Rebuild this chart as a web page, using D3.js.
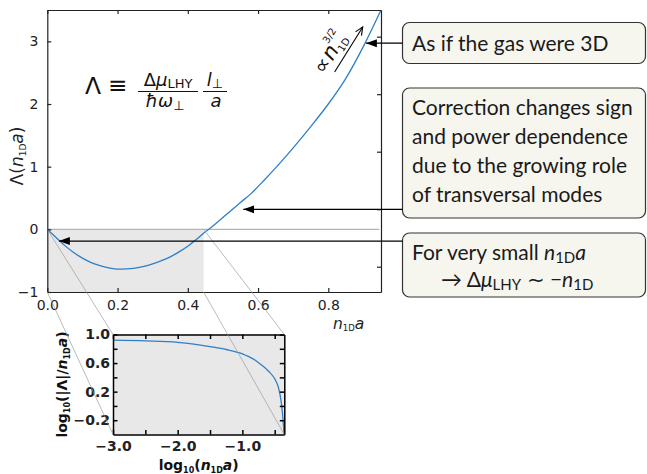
<!DOCTYPE html>
<html>
<head>
<meta charset="utf-8">
<script src="https://cdn.jsdelivr.net/npm/d3@7"></script>
<style>
  body { margin: 0; background: #fff; }
  svg { display: block; font-family: "DejaVu Sans", sans-serif; }
  .axis text { font-family: "DejaVu Sans", sans-serif; fill: #222; }
  .box text { font-family: Lato, sans-serif; font-size: 21px; fill: #1a1a1a; }
</style>
</head>
<body>
<svg id="chart" width="647" height="474"></svg>
<script>
// Lambda(n1D a)
const densities = [0, 0.025, 0.05, 0.075, 0.1, 0.125, 0.15, 0.175, 0.2, 0.225, 0.25, 0.275,
  0.3, 0.325, 0.35, 0.375, 0.4, 0.425, 0.45, 0.475, 0.5, 0.525, 0.55, 0.58, 0.62, 0.65,
  0.7, 0.75, 0.8, 0.85, 0.9, 0.95];
const lambdaValues = [0, -0.13, -0.26, -0.37, -0.46, -0.53, -0.58, -0.615, -0.635, -0.632, -0.618, -0.59,
  -0.55, -0.50, -0.44, -0.36, -0.27, -0.16, -0.04, 0.07, 0.19, 0.31, 0.43, 0.57, 0.80, 0.98,
  1.30, 1.64, 2.00, 2.41, 2.92, 3.50];

// inset: log10(|Lambda| / n1D a) against log10(n1D a)
const logDensities = [-3.0, -2.5, -2.0, -1.75, -1.5, -1.25, -1.0, -0.9, -0.8, -0.7, -0.6, -0.5,
  -0.45, -0.42, -0.40, -0.38, -0.365, -0.355];
const logRatios = [0.92, 0.91, 0.89, 0.865, 0.83, 0.79, 0.73, 0.69, 0.64, 0.57, 0.49, 0.38,
  0.28, 0.17, 0.06, -0.10, -0.27, -0.42];

const xTicks = [0, 0.2, 0.4, 0.6, 0.8];
const yTicks = [-1, 0, 1, 2, 3];
const rightTicks = [0, 1, 2, 3, 4];
const insetXTicks = [-3, -2.5, -2, -1.5, -1, -0.5];
const insetXLabels = [-3, -2, -1];
const insetYTicks = [-0.2, 0, 0.2, 0.4, 0.6, 0.8, 1.0];
const insetYLabels = [-0.2, 0.2, 0.6, 1.0];

// zoomed window [n1D a range, Lambda range]
const zoomX = [0, 0.445];
const zoomY = [-1, 0];

// arrow tips (data coords of main panel)
const arrowTips = [[0.907, 2.97], [0.558, 0.32], [0.033, -0.187]];

const boxTexts = [
  ["As if the gas were 3D"],
  ["Correction changes sign", "and power dependence", "due to the growing role", "of transversal modes"]
];

const svg = d3.select("#chart");

const x = d3.scaleLinear().domain([0, 0.95]).range([47.3, 381]);
const y = d3.scaleLinear().domain([-1, 3.5]).range([292, 10]);
const yRight = d3.scaleLinear().domain([-0.44, 4.464]).range([292, 10]);

const ix = d3.scaleLinear().domain([-3, Math.log10(zoomX[1])]).range([113, 284.3]);
const iy = d3.scaleLinear().domain([-0.4, 1.0]).range([434.5, 334.5]);

const blue = "#2f7fc6";

// defs: arrow heads, clip for inset
const defs = svg.append("defs");
defs.append("marker")
  .attr("id", "head")
  .attr("markerUnits", "userSpaceOnUse")
  .attr("markerWidth", 12).attr("markerHeight", 10)
  .attr("refX", 11).attr("refY", 4.5)
  .attr("orient", "auto")
  .append("path")
  .attr("d", "M0,0.5 L11,4.5 L0,8.5 Z")
  .attr("fill", "#000");
defs.append("marker")
  .attr("id", "openhead")
  .attr("markerUnits", "userSpaceOnUse")
  .attr("markerWidth", 12).attr("markerHeight", 10)
  .attr("refX", 8).attr("refY", 4)
  .attr("orient", "auto")
  .append("path")
  .attr("d", "M0,0.5 L8,4 L0,7.5")
  .attr("fill", "none").attr("stroke", "#000").attr("stroke-width", 1.1);
defs.append("clipPath").attr("id", "insetClip")
  .append("rect")
  .attr("x", ix.range()[0]).attr("y", iy.range()[1])
  .attr("width", ix.range()[1] - ix.range()[0])
  .attr("height", iy.range()[0] - iy.range()[1]);

// ---- main panel ----
svg.append("rect")
  .attr("x", x(zoomX[0])).attr("y", y(zoomY[1]))
  .attr("width", x(zoomX[1]) - x(zoomX[0]))
  .attr("height", y(zoomY[0]) - y(zoomY[1]))
  .attr("fill", "#e8e8e8");

svg.append("line")
  .attr("x1", x(0)).attr("x2", x(0.945))
  .attr("y1", y(0)).attr("y2", y(0))
  .attr("stroke", "#b4b4b4").attr("stroke-width", 1.3);

const mainLine = d3.line()
  .x((d, i) => x(densities[i]))
  .y(d => y(d))
  .curve(d3.curveMonotoneX);

svg.append("path")
  .datum(lambdaValues)
  .attr("d", mainLine)
  .attr("fill", "none")
  .attr("stroke", blue)
  .attr("stroke-width", 1.3);

function styleAxis(g, color, width) {
  g.selectAll(".domain").attr("stroke", color).attr("stroke-width", width);
  g.selectAll(".tick line").attr("stroke", color).attr("stroke-width", width);
}

const gx = svg.append("g").attr("class", "axis")
  .attr("transform", `translate(0,${y.range()[0]})`)
  .call(d3.axisBottom(x).tickValues(xTicks).tickFormat(d3.format(".1f"))
    .tickSizeInner(-4).tickSizeOuter(0).tickPadding(8));
gx.selectAll("text").attr("font-size", 14);
styleAxis(gx, "#222", 1.2);

const gxt = svg.append("g").attr("class", "axis")
  .attr("transform", `translate(0,${y.range()[1]})`)
  .call(d3.axisTop(x).tickValues(xTicks).tickFormat("")
    .tickSizeInner(-4).tickSizeOuter(0));
styleAxis(gxt, "#222", 1.2);

const gy = svg.append("g").attr("class", "axis")
  .attr("transform", `translate(${x.range()[0]},0)`)
  .call(d3.axisLeft(y).tickValues(yTicks).tickFormat(d3.format("d"))
    .tickSizeInner(-4).tickSizeOuter(0).tickPadding(9));
gy.selectAll("text").attr("font-size", 14);
styleAxis(gy, "#222", 1.2);

const gyr = svg.append("g").attr("class", "axis")
  .attr("transform", `translate(${x.range()[1]},0)`)
  .call(d3.axisRight(yRight).tickValues(rightTicks).tickFormat("")
    .tickSizeInner(-4).tickSizeOuter(0));
styleAxis(gyr, "#222", 1.2);

// axis titles
const yTitle = svg.append("text")
  .attr("transform", `translate(23,${(y.range()[0] + y.range()[1]) / 2 + 5}) rotate(-90)`)
  .attr("text-anchor", "middle")
  .attr("font-size", 17)
  .attr("fill", "#222");
yTitle.append("tspan").text("Λ(");
yTitle.append("tspan").attr("font-style", "italic").text("n");
yTitle.append("tspan").attr("font-size", 9).attr("dy", 3).text("1D");
yTitle.append("tspan").attr("font-style", "italic").attr("dy", -3).text("a");
yTitle.append("tspan").text(")");

const xTitle = svg.append("text")
  .attr("x", 333).attr("y", 329)
  .attr("font-size", 15.5)
  .attr("fill", "#222");
xTitle.append("tspan").attr("font-style", "italic").text("n");
xTitle.append("tspan").attr("font-size", 8.5).attr("dy", 2).text("1D");
xTitle.append("tspan").attr("font-style", "italic").attr("dy", -2).text("a");

// definition of Lambda
const fm = svg.append("g").attr("fill", "#111");
fm.append("text").attr("x", 85).attr("y", 94).attr("font-size", 23.5).text("Λ");
fm.append("text").attr("x", 108).attr("y", 93).attr("font-size", 23).text("≡");
const num = fm.append("text").attr("x", 168).attr("y", 86).attr("font-size", 18)
  .attr("text-anchor", "middle");
num.append("tspan").text("Δ");
num.append("tspan").attr("font-style", "italic").text("μ");
num.append("tspan").attr("font-size", 13).attr("dy", 2).text("LHY");
fm.append("line").attr("x1", 138).attr("x2", 198).attr("y1", 91.5).attr("y2", 91.5)
  .attr("stroke", "#111").attr("stroke-width", 1);
const den = fm.append("text").attr("x", 165).attr("y", 107).attr("font-size", 18)
  .attr("text-anchor", "middle");
den.append("tspan").attr("font-style", "italic").text("ħω");
den.append("tspan").attr("font-size", 13).attr("dy", 3).text("⊥");
const num2 = fm.append("text").attr("x", 215).attr("y", 86).attr("font-size", 18)
  .attr("text-anchor", "middle");
num2.append("tspan").attr("font-style", "italic").text("l");
num2.append("tspan").attr("font-size", 13).attr("dy", 2).text("⊥");
fm.append("line").attr("x1", 203).attr("x2", 227).attr("y1", 91.5).attr("y2", 91.5)
  .attr("stroke", "#111").attr("stroke-width", 1);
fm.append("text").attr("x", 216).attr("y", 107).attr("font-size", 18)
  .attr("text-anchor", "middle").attr("font-style", "italic").text("a");

// proportional-to annotation with open arrow
svg.append("line")
  .attr("x1", x(0.818)).attr("y1", y(2.51))
  .attr("x2", x(0.898)).attr("y2", y(3.23))
  .attr("stroke", "#000").attr("stroke-width", 1.1)
  .attr("marker-end", "url(#openhead)");
const prop = svg.append("text")
  .attr("transform", `translate(${x(0.788)},${y(2.46)}) rotate(-58)`)
  .attr("font-size", 21).attr("fill", "#111");
prop.append("tspan").text("∝");
prop.append("tspan").attr("font-style", "italic").attr("dx", 1).text("n");
prop.append("tspan").attr("font-size", 10).attr("dy", 4).text("1D");
prop.append("tspan").attr("font-size", 10).attr("dx", -15).attr("dy", -17).text("3/2");

// ---- inset ----
svg.append("rect")
  .attr("x", ix.range()[0]).attr("y", iy.range()[1])
  .attr("width", ix.range()[1] - ix.range()[0])
  .attr("height", iy.range()[0] - iy.range()[1])
  .attr("fill", "#e8e8e8");

const insetLine = d3.line()
  .x((d, i) => ix(logDensities[i]))
  .y(d => iy(d))
  .curve(d3.curveMonotoneX);

svg.append("path")
  .datum(logRatios)
  .attr("d", insetLine)
  .attr("clip-path", "url(#insetClip)")
  .attr("fill", "none")
  .attr("stroke", blue)
  .attr("stroke-width", 1.3);

const fmtInset = d3.format(".1f");
const gix = svg.append("g").attr("class", "axis")
  .attr("transform", `translate(0,${iy.range()[0]})`)
  .call(d3.axisBottom(ix).tickValues(insetXTicks)
    .tickFormat(d => insetXLabels.includes(d) ? fmtInset(d) : "")
    .tickSizeInner(-4.5).tickSizeOuter(0).tickPadding(7));
gix.selectAll("text").attr("font-size", 14).attr("font-weight", "bold");
styleAxis(gix, "#000", 1.5);

const gixt = svg.append("g").attr("class", "axis")
  .attr("transform", `translate(0,${iy.range()[1]})`)
  .call(d3.axisTop(ix).tickValues(insetXTicks).tickFormat("")
    .tickSizeInner(-4.5).tickSizeOuter(0));
styleAxis(gixt, "#000", 1.5);

const giy = svg.append("g").attr("class", "axis")
  .attr("transform", `translate(${ix.range()[0]},0)`)
  .call(d3.axisLeft(iy).tickValues(insetYTicks)
    .tickFormat(d => insetYLabels.includes(d) ? fmtInset(d) : "")
    .tickSizeInner(-4.5).tickSizeOuter(0).tickPadding(3));
giy.selectAll("text").attr("font-size", 14).attr("font-weight", "bold");
styleAxis(giy, "#000", 1.5);

const giyr = svg.append("g").attr("class", "axis")
  .attr("transform", `translate(${ix.range()[1]},0)`)
  .call(d3.axisRight(iy).tickValues(insetYTicks).tickFormat("")
    .tickSizeInner(-4.5).tickSizeOuter(0));
styleAxis(giyr, "#000", 1.5);

const iyTitle = svg.append("text")
  .attr("transform", `translate(67,${(iy.range()[0] + iy.range()[1]) / 2}) rotate(-90)`)
  .attr("text-anchor", "middle")
  .attr("font-size", 14).attr("font-weight", "bold").attr("fill", "#111");
iyTitle.append("tspan").text("log");
iyTitle.append("tspan").attr("font-size", 8).attr("dy", 3).text("10");
iyTitle.append("tspan").attr("dy", -3).text("(|Λ|/");
iyTitle.append("tspan").attr("font-style", "italic").text("n");
iyTitle.append("tspan").attr("font-size", 8).attr("dy", 3).text("1D");
iyTitle.append("tspan").attr("font-style", "italic").attr("dy", -3).text("a");
iyTitle.append("tspan").text(")");

const ixTitle = svg.append("text")
  .attr("x", (ix.range()[0] + ix.range()[1]) / 2).attr("y", 470)
  .attr("text-anchor", "middle")
  .attr("font-size", 14).attr("font-weight", "bold").attr("fill", "#111");
ixTitle.append("tspan").text("log");
ixTitle.append("tspan").attr("font-size", 8).attr("dy", 3).text("10");
ixTitle.append("tspan").attr("dy", -3).text("(");
ixTitle.append("tspan").attr("font-style", "italic").text("n");
ixTitle.append("tspan").attr("font-size", 8).attr("dy", 3).text("1D");
ixTitle.append("tspan").attr("font-style", "italic").attr("dy", -3).text("a");
ixTitle.append("tspan").text(")");

// zoom connector lines, drawn on top
const corners = [[0, 1, 0, 1], [0, 0, 0, 0], [1, 1, 1, 1], [1, 0, 1, 0]];
svg.append("g")
  .selectAll("line")
  .data(corners)
  .join("line")
  .attr("x1", d => x(zoomX[d[0]]))
  .attr("y1", d => y(zoomY[d[1]]))
  .attr("x2", d => ix.range()[d[2]])
  .attr("y2", d => d[3] ? iy.range()[1] : iy.range()[0])
  .attr("stroke", "#999")
  .attr("stroke-opacity", 0.75)
  .attr("stroke-width", 0.9);

// ---- annotation boxes ----
const boxLeft = 402.5;
const boxes = [
  { y: 22.5, h: 41 },
  { y: 88, h: 130 },
  { y: 233, h: 64 }
];
const bg = svg.append("g").attr("class", "box");
bg.selectAll("rect")
  .data(boxes)
  .join("rect")
  .attr("x", boxLeft).attr("y", d => d.y)
  .attr("width", 243).attr("height", d => d.h)
  .attr("rx", 7)
  .attr("fill", "#f6f6ef")
  .attr("stroke", "#333")
  .attr("stroke-width", 1.2);

boxTexts.forEach((lines, b) => {
  lines.forEach((s, i) => {
    bg.append("text")
      .attr("x", 412)
      .attr("y", (b === 0 ? 50.5 : 115) + i * 29)
      .text(s);
  });
});

const t3a = bg.append("text").attr("x", 412).attr("y", 260);
t3a.append("tspan").text("For very small ");
t3a.append("tspan").attr("font-style", "italic").text("n");
t3a.append("tspan").attr("font-size", 15).attr("dy", 3).text("1D");
t3a.append("tspan").attr("font-style", "italic").attr("dy", -3).text("a");

const t3b = bg.append("text").attr("x", 441).attr("y", 287);
t3b.append("tspan").text("→ Δ");
t3b.append("tspan").attr("font-style", "italic").text("μ");
t3b.append("tspan").attr("font-size", 15).attr("dy", 3).text("LHY");
t3b.append("tspan").attr("dy", -3).text(" ∼ −");
t3b.append("tspan").attr("font-style", "italic").text("n");
t3b.append("tspan").attr("font-size", 15).attr("dy", 3).text("1D");

// arrows from boxes to the curve
svg.append("g")
  .selectAll("line")
  .data(arrowTips)
  .join("line")
  .attr("x1", boxLeft)
  .attr("y1", d => y(d[1]))
  .attr("x2", d => x(d[0]))
  .attr("y2", d => y(d[1]))
  .attr("stroke", "#000")
  .attr("stroke-width", 1.2)
  .attr("marker-end", "url(#head)");
</script>
</body>
</html>
